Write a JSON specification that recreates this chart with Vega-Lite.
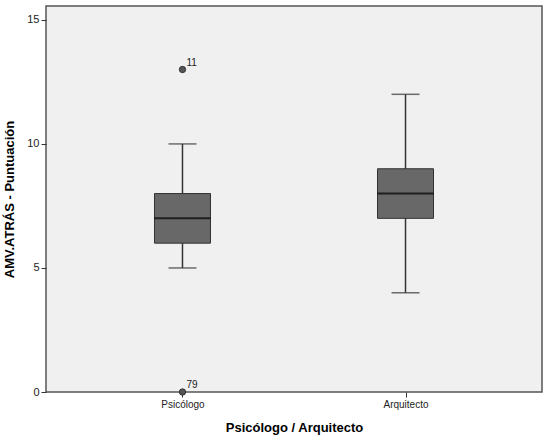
{
  "$schema": "https://vega.github.io/schema/vega-lite/v6.json",
  "autosize": "none",
  "width": 496,
  "height": 386,
  "padding": {"left": 46, "top": 6, "right": 8, "bottom": 52},
  "background": "white",
  "datasets": {
    "boxes": [
      {"grupo": "Psicólogo", "min": 5, "q1": 6, "median": 7, "q3": 8, "max": 10},
      {"grupo": "Arquitecto", "min": 4, "q1": 7, "median": 8, "q3": 9, "max": 12}
    ],
    "outliers": [
      {"grupo": "Psicólogo", "valor": 13, "caso": "11"},
      {"grupo": "Psicólogo", "valor": 0, "caso": "79"}
    ]
  },
  "encoding": {
    "x": {
      "field": "grupo",
      "type": "nominal",
      "sort": ["Psicólogo", "Arquitecto"],
      "scale": {"type": "point", "padding": 0.612},
      "axis": {
        "title": "Psicólogo / Arquitecto",
        "labelAngle": 0,
        "labelFontSize": 10,
        "labelPadding": 2,
        "tickSize": 5,
        "titlePadding": 12
      }
    }
  },
  "layer": [
    {
      "data": {"name": "boxes"},
      "mark": {"type": "rule", "color": "#333", "strokeWidth": 1.5},
      "encoding": {
        "y": {
          "field": "min",
          "type": "quantitative",
          "scale": {"domain": [0, 15.56], "nice": false, "zero": true},
          "axis": {
            "title": "AMV.ATRÁS - Puntuación",
            "values": [0, 5, 10, 15],
            "labelFontSize": 11,
            "tickSize": 5,
            "titlePadding": 10
          }
        },
        "y2": {"field": "max"}
      }
    },
    {
      "data": {"name": "boxes"},
      "mark": {"type": "tick", "size": 28, "thickness": 1.5, "color": "#333"},
      "encoding": {"y": {"field": "min", "type": "quantitative"}}
    },
    {
      "data": {"name": "boxes"},
      "mark": {"type": "tick", "size": 28, "thickness": 1.5, "color": "#333"},
      "encoding": {"y": {"field": "max", "type": "quantitative"}}
    },
    {
      "data": {"name": "boxes"},
      "mark": {"type": "bar", "size": 56, "fill": "#686868", "stroke": "#333", "strokeWidth": 1},
      "encoding": {
        "y": {"field": "q1", "type": "quantitative"},
        "y2": {"field": "q3"}
      }
    },
    {
      "data": {"name": "boxes"},
      "mark": {"type": "tick", "size": 56, "thickness": 2, "color": "#000"},
      "encoding": {"y": {"field": "median", "type": "quantitative"}}
    },
    {
      "data": {"name": "outliers"},
      "mark": {"type": "point", "filled": true, "size": 40, "color": "#555", "stroke": "#333", "strokeWidth": 1, "opacity": 1},
      "encoding": {"y": {"field": "valor", "type": "quantitative"}}
    },
    {
      "data": {"name": "outliers"},
      "mark": {"type": "text", "align": "left", "baseline": "bottom", "dx": 4, "dy": -2, "fontSize": 10, "color": "#222", "font": "Liberation Sans"},
      "encoding": {
        "y": {"field": "valor", "type": "quantitative"},
        "text": {"field": "caso"}
      }
    }
  ],
  "config": {
    "view": {"fill": "#f0f0f0", "stroke": "#555", "strokeWidth": 1.5},
    "axis": {
      "grid": false,
      "domain": false,
      "tickColor": "#333",
      "labelColor": "#222",
      "labelFont": "Liberation Sans",
      "titleFont": "Liberation Sans",
      "titleFontSize": 13,
      "titleFontWeight": "bold",
      "titleColor": "#000"
    }
  }
}
